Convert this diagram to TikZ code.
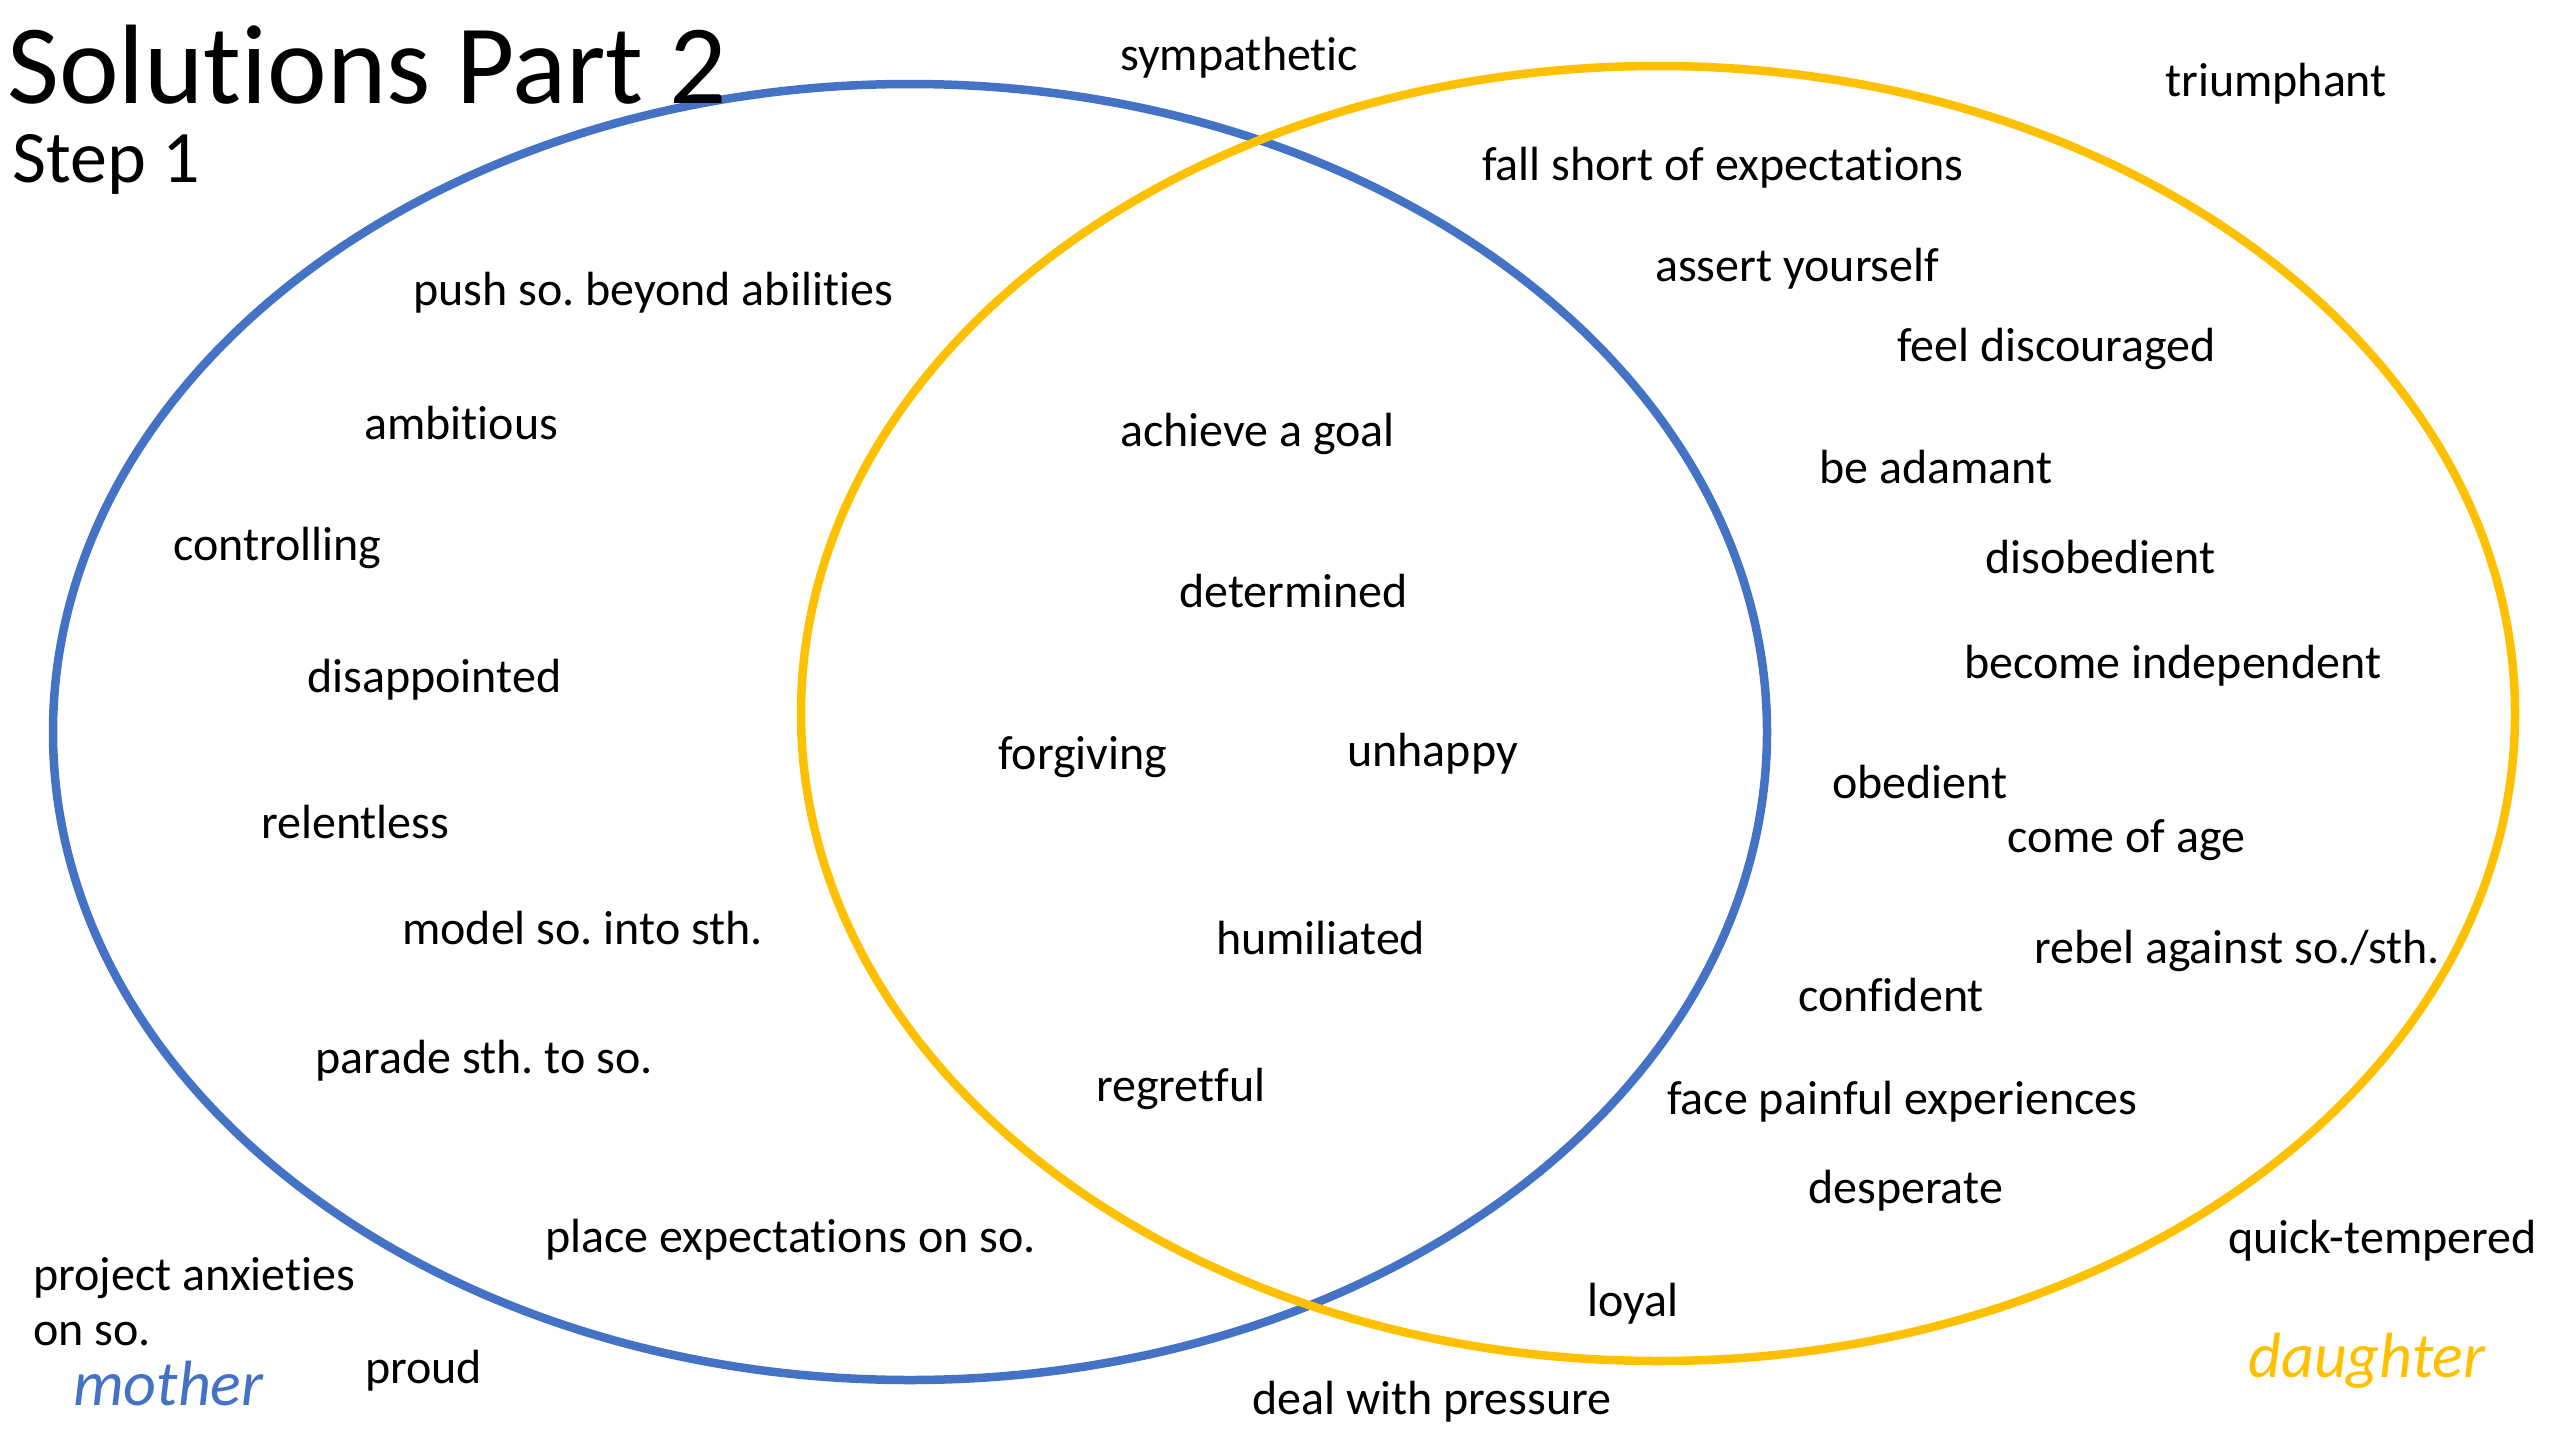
\documentclass[tikz,border=0pt]{standalone}
\usepackage{fontspec}
\setmainfont{Carlito}[Ligatures={NoCommon,NoContextual},Contextuals=NoAlternate]
\definecolor{mblue}{HTML}{4472C4}
\definecolor{dgold}{HTML}{FFC000}
\begin{document}
\frenchspacing
\begin{tikzpicture}[x=1pt,y=-1pt,
  lbl/.style={anchor=base west,inner sep=0pt,font=\fontsize{48}{56}\selectfont},
  tag/.style={anchor=base west,inner sep=0pt,font=\fontsize{64}{72}\selectfont\itshape},
  ring/.style={line width=8.5pt}]
\useasboundingbox (0,0) rectangle (2560,1440);
\draw[ring,mblue] (910,732) ellipse [x radius=857, y radius=648];
\draw[ring,dgold] (1658,713.5) ellipse [x radius=857, y radius=647.5];
\node[anchor=base west,inner sep=0pt,font=\fontsize{113}{130}\selectfont] (title) at (7,103) {Solutions Part 2};
\node[anchor=base west,inner sep=0pt,font=\fontsize{74}{85}\selectfont] (step) at (12,182) {Step 1};
\node[lbl] (n1) at (1120,70) {sympathetic};
\node[lbl] (n2) at (2165,96) {triumphant};
\node[lbl] (n3) at (1482,180) {fall short of expectations};
\node[lbl] (n4) at (1655,281) {assert yourself};
\node[lbl] (n5) at (1897,361) {feel discouraged};
\node[lbl] (n6) at (413,305) {push so. beyond abilities};
\node[lbl] (n7) at (364,439) {ambitious};
\node[lbl] (n8) at (1120,446) {achieve a goal};
\node[lbl] (n9) at (1819,483) {be adamant};
\node[lbl] (n10) at (173,560) {controlling};
\node[lbl] (n11) at (1985,573) {disobedient};
\node[lbl] (n12) at (1179,607) {determined};
\node[lbl] (n13) at (1964,678) {become independent};
\node[lbl] (n14) at (307,692) {disappointed};
\node[lbl] (n15) at (998,769) {forgiving};
\node[lbl] (n16) at (1347,766) {unhappy};
\node[lbl] (n17) at (1832,798) {obedient};
\node[lbl] (n18) at (261,838) {relentless};
\node[lbl] (n19) at (2007,852) {come of age};
\node[lbl] (n20) at (402,944) {model so. into sth.};
\node[lbl] (n21) at (1216,954) {humiliated};
\node[lbl] (n22) at (2034,963) {rebel against so./sth.};
\node[lbl] (n23) at (1798,1011) {confident};
\node[lbl] (n24) at (315,1073) {parade sth. to so.};
\node[lbl] (n25) at (1096,1101) {regretful};
\node[lbl] (n26) at (1667,1114) {face painful experiences};
\node[lbl] (n27) at (1808,1203) {desperate};
\node[lbl] (n28) at (545,1252) {place expectations on so.};
\node[lbl] (n29) at (2228,1253) {quick-tempered};
\node[lbl] (n30a) at (33,1290) {project anxieties};
\node[lbl] (n30b) at (33,1345) {on so.};
\node[lbl] (n31) at (1587,1316) {loyal};
\node[lbl] (n32) at (365,1383) {proud};
\node[lbl] (n33) at (1252,1414) {deal with pressure};
\node[tag,text=mblue] (mother) at (73,1405) {mother};
\node[tag,text=dgold] (daughter) at (2248,1377) {daughter};
\end{tikzpicture}
\end{document}
